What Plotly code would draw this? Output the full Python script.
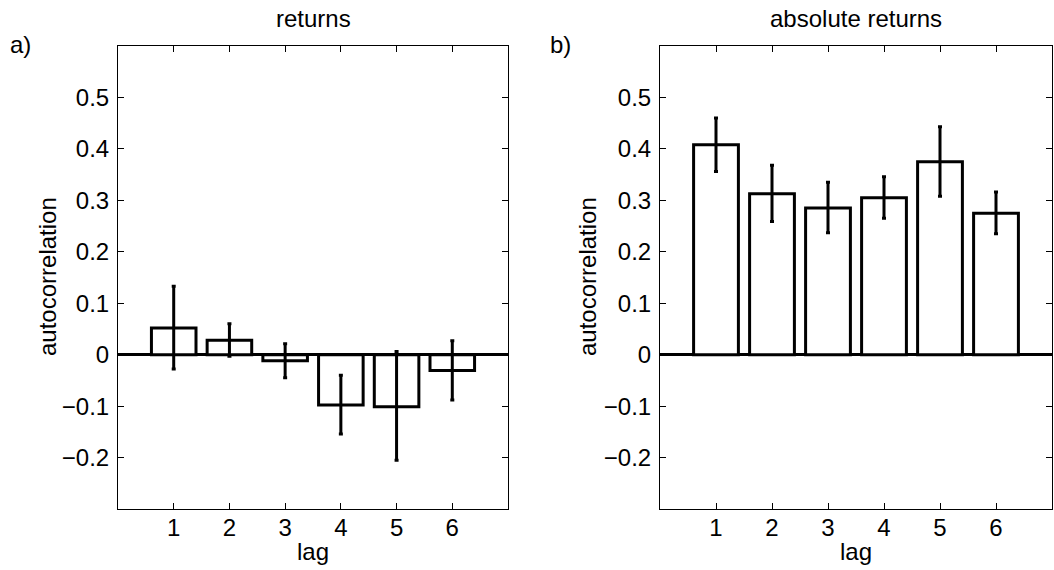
import plotly.graph_objects as go

lags = [1, 2, 3, 4, 5, 6]

# a) returns
ret_vals = [0.052, 0.028, -0.012, -0.098, -0.101, -0.031]
ret_err_up = [0.081, 0.032, 0.033, 0.058, 0.107, 0.058]
ret_err_down = [0.080, 0.031, 0.033, 0.056, 0.104, 0.057]

# b) absolute returns
abs_vals = [0.408, 0.313, 0.285, 0.305, 0.375, 0.275]
abs_err_up = [0.052, 0.055, 0.050, 0.041, 0.068, 0.041]
abs_err_down = [0.052, 0.054, 0.048, 0.040, 0.067, 0.040]

ytick_vals = [-0.2, -0.1, 0, 0.1, 0.2, 0.3, 0.4, 0.5]
ytick_text = ["\u22120.2", "\u22120.1", "0", "0.1", "0.2", "0.3", "0.4", "0.5"]

FONT = "Liberation Sans, Arial, Helvetica, sans-serif"
TICK_SIZE = 24
LABEL_SIZE = 24

fig = go.Figure()

def add_panel(vals, up, down, xa, ya):
    fig.add_trace(go.Bar(
        x=lags, y=vals, width=0.8,
        marker=dict(color="white", line=dict(color="black", width=3)),
        error_y=dict(type="data", symmetric=False, array=up, arrayminus=down,
                     color="black", thickness=3, width=2),
        xaxis=xa, yaxis=ya, showlegend=False, hoverinfo="skip",
    ))

add_panel(ret_vals, ret_err_up, ret_err_down, "x", "y")
add_panel(abs_vals, abs_err_up, abs_err_down, "x2", "y2")

W, H = 1054, 570
top_px, bot_px = 46, 509
ydom = [1 - bot_px / H, 1 - top_px / H]
xdom1 = [118 / W, 508 / W]
xdom2 = [660 / W, 1052 / W]

axis_common = dict(
    showline=True, linecolor="black", linewidth=1, mirror="ticks",
    ticks="inside", ticklen=6, tickcolor="black", tickwidth=1,
    showgrid=False,
    tickfont=dict(family=FONT, size=TICK_SIZE, color="black"),
)

xcommon = dict(axis_common, range=[0, 7], tickvals=lags, zeroline=False,
               ticklabelstandoff=-3)
ycommon = dict(axis_common, range=[-0.3, 0.6], tickvals=ytick_vals,
               ticktext=ytick_text, zeroline=True, zerolinecolor="black",
               zerolinewidth=3, ticklabelstandoff=3)

fig.update_layout(
    width=W, height=H,
    margin=dict(l=0, r=0, t=0, b=0),
    paper_bgcolor="white", plot_bgcolor="white",
    bargap=0.2,
    xaxis=dict(xcommon, domain=xdom1, anchor="y"),
    yaxis=dict(ycommon, domain=ydom, anchor="x"),
    xaxis2=dict(xcommon, domain=xdom2, anchor="y2"),
    yaxis2=dict(ycommon, domain=ydom, anchor="x2"),
)

def ann(text, x, y, size=LABEL_SIZE, angle=0):
    fig.add_annotation(text=text, x=x / W, y=1 - y / H, xref="paper", yref="paper",
                       showarrow=False, textangle=angle,
                       xanchor="center", yanchor="middle",
                       font=dict(family=FONT, size=size, color="black"))

ann("returns", 313, 19)
ann("absolute returns", 856, 19)
ann("a)", 20, 44)
ann("b)", 560, 44)
ann("autocorrelation", 47, 277, angle=-90)
ann("autocorrelation", 587, 277, angle=-90)
ann("lag", 313, 551)
ann("lag", 856, 551)

fig.write_html(
    "out.html",
    config={"displayModeBar": False},
    post_script="document.body.style.margin='0px';document.body.style.overflow='hidden';",
)
